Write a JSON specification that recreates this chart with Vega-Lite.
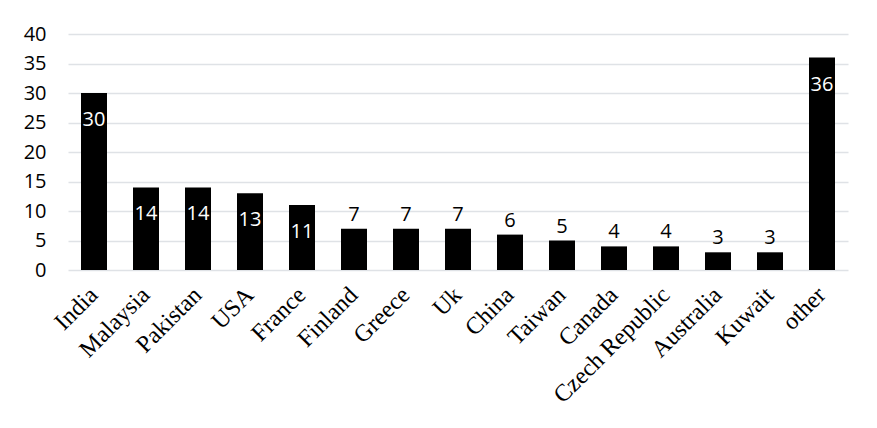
{
  "$schema": "https://vega.github.io/schema/vega-lite/v6.json",
  "width": 780,
  "height": 236,
  "autosize": {"type": "none"},
  "padding": {"left": 68, "top": 34, "right": 29, "bottom": 158},
  "background": "white",
  "config": {"view": {"stroke": null}},
  "data": {
    "values": [
      {"country": "India", "value": 30},
      {"country": "Malaysia", "value": 14},
      {"country": "Pakistan", "value": 14},
      {"country": "USA", "value": 13},
      {"country": "France", "value": 11},
      {"country": "Finland", "value": 7},
      {"country": "Greece", "value": 7},
      {"country": "Uk", "value": 7},
      {"country": "China", "value": 6},
      {"country": "Taiwan", "value": 5},
      {"country": "Canada", "value": 4},
      {"country": "Czech Republic", "value": 4},
      {"country": "Australia", "value": 3},
      {"country": "Kuwait", "value": 3},
      {"country": "other", "value": 36}
    ]
  },
  "encoding": {
    "x": {
      "field": "country",
      "type": "nominal",
      "sort": null,
      "scale": {"paddingInner": 0.5, "paddingOuter": 0.25},
      "axis": {
        "title": null,
        "domain": false,
        "ticks": false,
        "labelAngle": -45,
        "labelAlign": "right",
        "labelBaseline": "middle",
        "labelPadding": 21,
        "labelFont": "Liberation Serif",
        "labelFontSize": 24,
        "labelColor": "#000000"
      }
    },
    "y": {
      "field": "value",
      "type": "quantitative",
      "scale": {"domain": [0, 40]},
      "axis": {
        "title": null,
        "values": [0, 5, 10, 15, 20, 25, 30, 35, 40],
        "domain": false,
        "ticks": false,
        "labelPadding": 22,
        "labelFont": "Open Sans",
        "labelFontSize": 20,
        "labelColor": "#000000",
        "gridColor": "#dfe2e6",
        "gridWidth": 1.5
      }
    }
  },
  "layer": [
    {"mark": {"type": "bar", "color": "#000000"}},
    {
      "transform": [{"filter": "datum.value >= 10"}],
      "mark": {"type": "text", "color": "#ffffff", "font": "Open Sans", "fontSize": 20, "baseline": "middle", "dy": 27},
      "encoding": {"text": {"field": "value", "type": "quantitative"}}
    },
    {
      "transform": [{"filter": "datum.value < 10"}],
      "mark": {"type": "text", "color": "#000000", "font": "Open Sans", "fontSize": 20, "baseline": "bottom", "dy": -4},
      "encoding": {"text": {"field": "value", "type": "quantitative"}}
    }
  ]
}
